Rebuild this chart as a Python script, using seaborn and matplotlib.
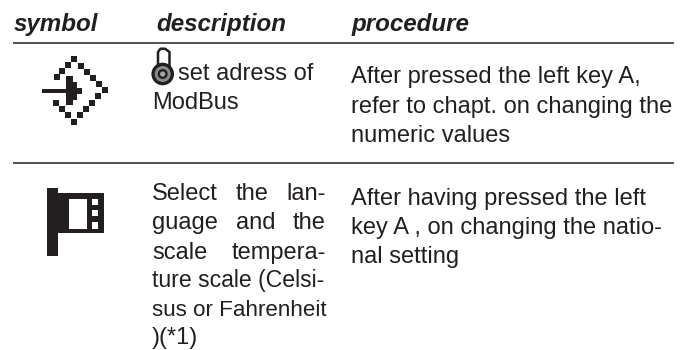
import matplotlib
matplotlib.use("Agg")
import matplotlib.pyplot as plt
import pandas as pd
import seaborn as sns

INK = "#231f20"
BODY = 17

headers = ["symbol", "description", "procedure"]
header_x = [14, 156, 352]

desc_1 = ["set adress of", "ModBus"]
desc_1_x = [178, 152]
desc_1_y = [80, 108.7]
proc_1 = ["After pressed the left key A,", "refer to chapt. on changing the", "numeric values"]
proc_1_y = [83, 112.7, 141.7]

# first three lines are letterspaced in the original, so the words get spread out
desc_2_wide = ["Select the lan-", "guage and the", "scale tempera-"]
desc_2_wide_y = [200, 229.3, 259]
desc_2_tight = ["ture scale (Celsi-", "sus or Fahrenheit"]
desc_2_tight_y = [287.3, 315.7]
desc_2_tight_size = [16.6, 16.1]
desc_2_last = ")(*1)"
proc_2 = ["After having pressed the left", "key A , on changing the natio-", "nal setting"]
proc_2_y = [205, 234, 262.7]

# small squares of the diamond symbol
diamond_x = [74.3, 68.3, 80.7, 62.3, 87.3, 56.7, 93.3, 99, 104.7, 98, 92, 85.7, 79.7, 73.7, 67.7, 61.7, 56, 79.3]
diamond_y = [59, 65, 65.7, 71.3, 72, 77.3, 78, 84, 90, 96, 102.7, 109, 115.3, 122, 115.3, 109, 103, 91]

sns.set_theme(style="white")
plt.rcParams["font.family"] = ["Liberation Sans", "DejaVu Sans"]

fig = plt.figure(figsize=(6.91, 3.5), dpi=100)
ax = fig.add_axes([0, 0, 1, 1])
ax.set_xlim(0, 691)
ax.set_ylim(350, 0)
ax.axis("off")
renderer = fig.canvas.get_renderer()

# rules
ax.hlines([42.6, 163.4], 13, 674, color=INK, lw=1.1)

for s, x in zip(headers, header_x):
    ax.text(x, 31.5, s, fontsize=17.4, fontweight="bold", fontstyle="italic", color=INK)

for s, x, y in zip(desc_1, desc_1_x, desc_1_y):
    ax.text(x, y, s, fontsize=BODY, color=INK)
for s, y in zip(proc_1, proc_1_y):
    ax.text(351, y, s, fontsize=BODY, color=INK)
for s, y in zip(proc_2, proc_2_y):
    ax.text(351, y, s, fontsize=BODY, color=INK)

for line, y in zip(desc_2_wide, desc_2_wide_y):
    words = [ax.text(152, y, w, fontsize=BODY, color=INK) for w in line.split()]
    widths = [w.get_window_extent(renderer).width for w in words]
    gap = (174 - sum(widths)) / (len(words) - 1)
    x = 152
    for w, wd in zip(words, widths):
        w.set_x(x)
        x += wd + gap
for s, y, size in zip(desc_2_tight, desc_2_tight_y, desc_2_tight_size):
    ax.text(152, y, s, fontsize=size, color=INK)
ax.text(152, 344, desc_2_last, fontsize=BODY, color=INK)

# diamond symbol
pts = pd.DataFrame({"x": diamond_x, "y": diamond_y})
sns.scatterplot(data=pts, x="x", y="y", marker="s", s=20, color=INK, linewidth=0, ax=ax, legend=False)
ax.fill_between([41.7, 67], 88.7, 92.7, color=INK, lw=0)
ax.fill_between([65.7, 72.7], 75.7, 105, color=INK, lw=0)
ax.fill_between([72.7, 77.3], 81.7, 100, color=INK, lw=0)
ax.set_xlim(0, 691)
ax.set_ylim(350, 0)

# padlock
ax.plot([158, 158, 160.5, 165, 169.5, 169.5], [66, 52, 48.7, 48.7, 52, 66], color=INK, lw=1.8)
ax.add_patch(plt.Circle((162.7, 74), 11.3, color=INK, lw=0))
ax.add_patch(plt.Circle((162.7, 74), 8, color="#8a8a8a", lw=0))
ax.add_patch(plt.Circle((162.7, 74), 5, color=INK, lw=0))
ax.add_patch(plt.Circle((162.7, 74), 2.6, color="#a8a8a8", lw=0))

# flag symbol
ax.fill_between([47.3, 57.7], 188.3, 256, color=INK, lw=0)
ax.fill_between([57.7, 103.7], 193.3, 233.3, color=INK, lw=0)
ax.fill_between([69, 87.3], 199, 229, color="white", lw=0)
for y0, y1 in [(199.3, 204.7), (210, 216), (222, 228.7)]:
    ax.fill_between([92, 98], y0, y1, color="white", lw=0)

fig.savefig("out.png", dpi=100)
